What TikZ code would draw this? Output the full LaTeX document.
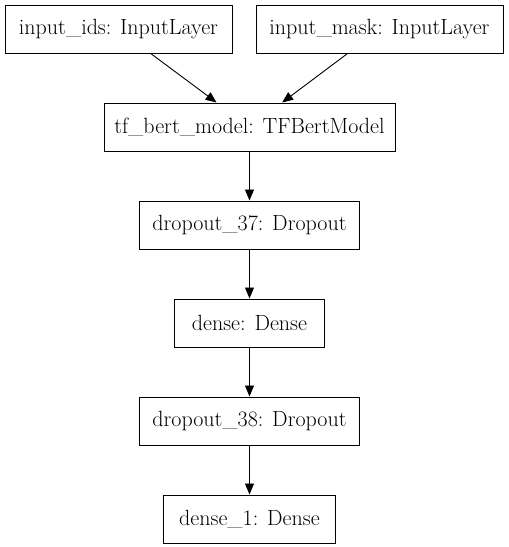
\documentclass[tikz,border=0pt]{standalone}
\usetikzlibrary{positioning,arrows.meta}
\begin{document}
\begin{tikzpicture}[x=1pt, y=-1pt, node distance=49pt]
  \tikzstyle{layer}=[draw=black, line width=1pt, minimum height=48pt, inner xsep=0pt, font=\fontsize{22}{26}\selectfont]
  \tikzstyle{flow}=[-{Triangle[length=11pt,width=9pt]}, line width=0.9pt]
  \useasboundingbox (0,0) rectangle (509,547);
  \node[layer, minimum width=227pt] (ids) at (118.5,29.5) {input\_ids: InputLayer};
  \node[layer, minimum width=247pt] (mask) at (379.5,29.5) {input\_mask: InputLayer};
  \node[layer, minimum width=291pt] (bert) at (249.5,127) {tf\_bert\_model: TFBertModel};
  \node[layer, minimum width=220pt, below=of bert] (drop1) {dropout\_37: Dropout};
  \node[layer, minimum width=150pt, below=of drop1] (dense) {dense: Dense};
  \node[layer, minimum width=220pt, below=of dense] (drop2) {dropout\_38: Dropout};
  \node[layer, minimum width=172pt, below=of drop2] (dense1) {dense\_1: Dense};
  \draw[flow] (ids) -- (bert);
  \draw[flow] (mask) -- (bert);
  \draw[flow] (bert) -- (drop1);
  \draw[flow] (drop1) -- (dense);
  \draw[flow] (dense) -- (drop2);
  \draw[flow] (drop2) -- (dense1);
\end{tikzpicture}
\end{document}
